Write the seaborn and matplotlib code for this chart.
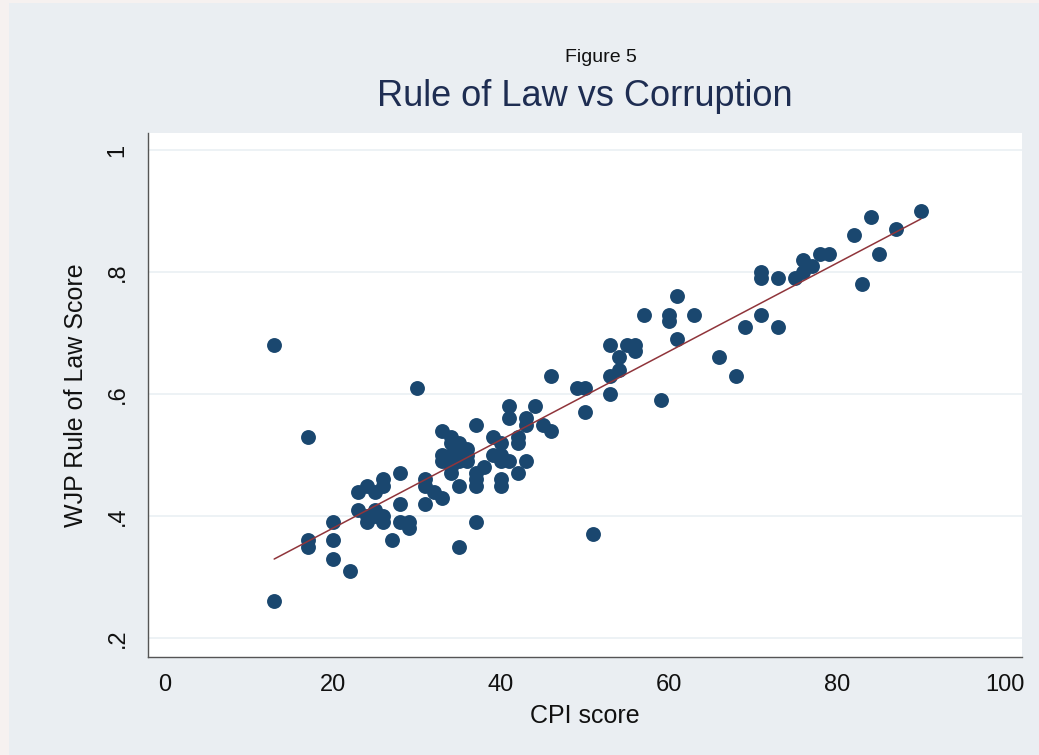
import numpy as np
import pandas as pd
import matplotlib
matplotlib.use("Agg")
import matplotlib.pyplot as plt
from matplotlib.patches import Rectangle
import seaborn as sns

# CPI score vs WJP rule of law score
cpi_score = [13, 13, 17, 17, 17, 20, 20, 20, 22, 23,
             23, 24, 24, 24, 25, 25, 25, 26, 26, 26,
             26, 27, 28, 28, 28, 29, 29, 30, 31, 31,
             31, 32, 33, 33, 33, 33, 34, 34, 34, 34,
             34, 35, 35, 35, 35, 35, 36, 36, 36, 37,
             37, 37, 37, 37, 38, 39, 39, 40, 40, 40,
             40, 40, 41, 41, 41, 42, 42, 42, 43, 43,
             43, 44, 45, 46, 46, 49, 50, 50, 51, 53,
             53, 53, 54, 54, 55, 56, 56, 57, 59, 60,
             60, 61, 61, 63, 66, 68, 69, 71, 71, 71,
             73, 73, 75, 76, 76, 77, 78, 79, 82, 83,
             84, 85, 87, 90]
wjp_score = [0.68, 0.26, 0.53, 0.36, 0.35, 0.39, 0.36, 0.33, 0.31, 0.44,
             0.41, 0.45, 0.40, 0.39, 0.44, 0.41, 0.40, 0.46, 0.45, 0.39,
             0.40, 0.36, 0.47, 0.42, 0.39, 0.39, 0.38, 0.61, 0.46, 0.45,
             0.42, 0.44, 0.43, 0.54, 0.50, 0.49, 0.53, 0.52, 0.50, 0.48,
             0.47, 0.52, 0.50, 0.49, 0.45, 0.35, 0.51, 0.50, 0.49, 0.55,
             0.47, 0.46, 0.45, 0.39, 0.48, 0.53, 0.50, 0.52, 0.50, 0.49,
             0.46, 0.45, 0.58, 0.56, 0.49, 0.53, 0.52, 0.47, 0.56, 0.55,
             0.49, 0.58, 0.55, 0.54, 0.63, 0.61, 0.61, 0.57, 0.37, 0.68,
             0.63, 0.60, 0.66, 0.64, 0.68, 0.68, 0.67, 0.73, 0.59, 0.73,
             0.72, 0.76, 0.69, 0.73, 0.66, 0.63, 0.71, 0.80, 0.79, 0.73,
             0.79, 0.71, 0.79, 0.82, 0.80, 0.81, 0.83, 0.83, 0.86, 0.78,
             0.89, 0.83, 0.87, 0.90]

x_ticks = [0, 20, 40, 60, 80, 100]
y_ticks = [0.2, 0.4, 0.6, 0.8, 1.0]
y_tick_labels = [".2", ".4", ".6", ".8", "1"]

df = pd.DataFrame({"CPI": cpi_score, "WJP": wjp_score})

sns.set_style("white")
plt.rcParams["font.family"] = ["Liberation Sans", "DejaVu Sans"]

navy = "#1a476f"
maroon = "#90353b"
outer_bg = "#eaeef2"

fig = plt.figure(figsize=(10.39, 7.55), dpi=100)
fig.patch.set_facecolor("#f6f1f0")
fig.patches.append(Rectangle((9 / 1039, 0), 1, 1 - 3 / 755, transform=fig.transFigure,
                             facecolor=outer_bg, edgecolor="none", zorder=-10))

ax = fig.add_axes([148 / 1039, 1 - 657 / 755, (1022 - 148) / 1039, (657 - 133) / 755])
ax.set_facecolor("white")

sns.regplot(data=df, x="CPI", y="WJP", ci=None, ax=ax,
            scatter_kws={"s": 115, "color": navy, "alpha": 1, "linewidths": 0},
            line_kws={"color": maroon, "lw": 1.1})

ax.set_xlim(-2.02, 102.02)
ax.set_ylim(0.169, 1.028)
ax.set_xticks(x_ticks)
ax.set_yticks(y_ticks)
ax.set_yticklabels(y_tick_labels, rotation=90, va="center")

ax.yaxis.grid(True, color="#eaf0f3", lw=1.2)
ax.xaxis.grid(False)
ax.set_axisbelow(True)

for side in ["top", "right"]:
    ax.spines[side].set_visible(False)
for side in ["left", "bottom"]:
    ax.spines[side].set_color("#555555")
    ax.spines[side].set_linewidth(1)

ax.tick_params(axis="both", direction="out", length=5, width=1, color="#555555",
               labelsize=17, labelcolor="#111111")
ax.tick_params(axis="x", pad=7)
ax.tick_params(axis="y", pad=9)

ax.set_xlabel("CPI score", fontsize=18, color="#111111", labelpad=6)
ax.set_ylabel("WJP Rule of Law Score", fontsize=18, color="#111111", labelpad=13)

fig.text(601 / 1039, 1 - 57 / 755, "Figure 5", ha="center", va="center", fontsize=14, color="#111111")
fig.text(585 / 1039, 1 - 97 / 755, "Rule of Law vs Corruption", ha="center", va="center",
         fontsize=26, color="#1e2d52")

fig.savefig("out.png", dpi=100, facecolor=fig.get_facecolor())
